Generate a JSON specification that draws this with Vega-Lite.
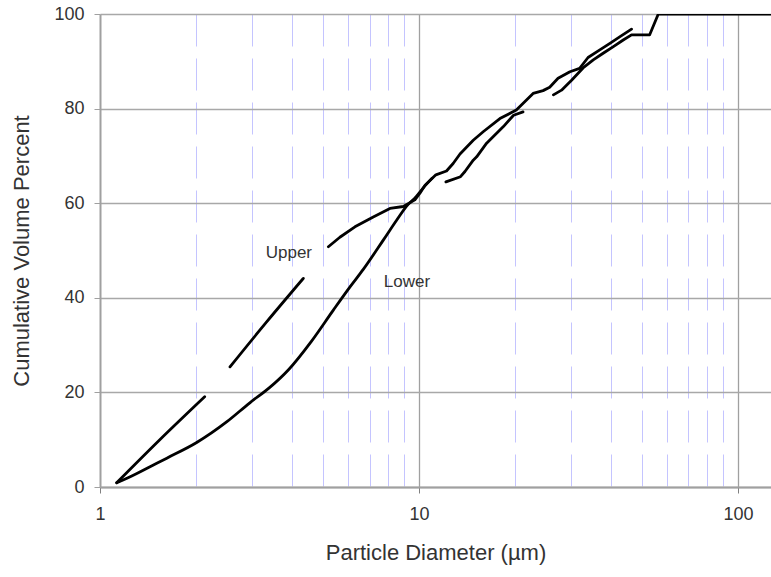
{
  "$schema": "https://vega.github.io/schema/vega-lite/v6.json",
  "autosize": "none",
  "width": 671,
  "height": 473,
  "padding": {"left": 100, "top": 14, "right": 0, "bottom": 90},
  "background": "white",
  "config": {
    "view": {"stroke": null},
    "font": "Liberation Sans",
    "axis": {"labelFont": "Liberation Sans", "titleFont": "Liberation Sans", "labelColor": "#333333", "titleColor": "#333333", "titleFontWeight": "normal", "labelFontSize": 18, "titleFontSize": 22}
  },
  "datasets": {
    "curves": [
      {"curve": "Upper", "seg": "U1", "d": 1.128, "v": 0.9},
      {"curve": "Upper", "seg": "U1", "d": 1.54, "v": 10.0},
      {"curve": "Upper", "seg": "U1", "d": 2.13, "v": 19.1},
      {"curve": "Upper", "seg": "U2", "d": 2.556, "v": 25.4},
      {"curve": "Upper", "seg": "U2", "d": 3.33, "v": 34.9},
      {"curve": "Upper", "seg": "U2", "d": 4.34, "v": 44.1},
      {"curve": "Upper", "seg": "U3", "d": 5.2, "v": 50.8},
      {"curve": "Upper", "seg": "U3", "d": 5.65, "v": 52.8},
      {"curve": "Upper", "seg": "U3", "d": 6.3, "v": 55.0},
      {"curve": "Upper", "seg": "U3", "d": 7.19, "v": 57.1},
      {"curve": "Upper", "seg": "U3", "d": 8.11, "v": 58.9},
      {"curve": "Upper", "seg": "U3", "d": 8.93, "v": 59.3},
      {"curve": "Upper", "seg": "U3", "d": 9.71, "v": 60.7},
      {"curve": "Upper", "seg": "U3", "d": 10.07, "v": 62.1},
      {"curve": "Upper", "seg": "U3", "d": 10.45, "v": 63.8},
      {"curve": "Upper", "seg": "U3", "d": 11.3, "v": 66.0},
      {"curve": "Upper", "seg": "U3", "d": 12.2, "v": 66.8},
      {"curve": "Upper", "seg": "U3", "d": 12.8, "v": 68.4},
      {"curve": "Upper", "seg": "U3", "d": 13.45, "v": 70.4},
      {"curve": "Upper", "seg": "U3", "d": 14.8, "v": 73.3},
      {"curve": "Upper", "seg": "U3", "d": 15.9, "v": 75.1},
      {"curve": "Upper", "seg": "U3", "d": 17.94, "v": 77.9},
      {"curve": "Upper", "seg": "U3", "d": 20.2, "v": 79.7},
      {"curve": "Upper", "seg": "U3", "d": 22.8, "v": 83.2},
      {"curve": "Upper", "seg": "U3", "d": 24.5, "v": 83.8},
      {"curve": "Upper", "seg": "U3", "d": 25.7, "v": 84.5},
      {"curve": "Upper", "seg": "U3", "d": 27.3, "v": 86.4},
      {"curve": "Upper", "seg": "U3", "d": 29.75, "v": 87.8},
      {"curve": "Upper", "seg": "U3", "d": 31.9, "v": 88.5},
      {"curve": "Upper", "seg": "U3", "d": 33.9, "v": 90.8},
      {"curve": "Upper", "seg": "U3", "d": 36.9, "v": 92.4},
      {"curve": "Upper", "seg": "U3", "d": 39.7, "v": 93.8},
      {"curve": "Upper", "seg": "U3", "d": 42.7, "v": 95.2},
      {"curve": "Upper", "seg": "U3", "d": 46.4, "v": 96.8},
      {"curve": "Lower", "seg": "L1", "d": 1.128, "v": 0.9},
      {"curve": "Lower", "seg": "L1", "d": 1.272, "v": 2.5},
      {"curve": "Lower", "seg": "L1", "d": 1.435, "v": 4.3},
      {"curve": "Lower", "seg": "L1", "d": 1.62, "v": 6.1},
      {"curve": "Lower", "seg": "L1", "d": 2.01, "v": 9.4},
      {"curve": "Lower", "seg": "L1", "d": 2.5, "v": 13.8},
      {"curve": "Lower", "seg": "L1", "d": 2.95, "v": 17.8},
      {"curve": "Lower", "seg": "L1", "d": 3.4, "v": 21.0},
      {"curve": "Lower", "seg": "L1", "d": 3.9, "v": 24.8},
      {"curve": "Lower", "seg": "L1", "d": 4.6, "v": 30.8},
      {"curve": "Lower", "seg": "L1", "d": 5.39, "v": 37.4},
      {"curve": "Lower", "seg": "L1", "d": 6.08, "v": 42.3},
      {"curve": "Lower", "seg": "L1", "d": 6.69, "v": 46.0},
      {"curve": "Lower", "seg": "L1", "d": 7.73, "v": 52.2},
      {"curve": "Lower", "seg": "L1", "d": 8.51, "v": 56.4},
      {"curve": "Lower", "seg": "L1", "d": 9.15, "v": 59.4},
      {"curve": "Lower", "seg": "L1", "d": 9.8, "v": 61.4},
      {"curve": "Lower", "seg": "L1", "d": 10.3, "v": 63.2},
      {"curve": "Lower", "seg": "L1", "d": 11.0, "v": 65.3},
      {"curve": "Lower", "seg": "L2", "d": 12.15, "v": 64.5},
      {"curve": "Lower", "seg": "L2", "d": 13.5, "v": 65.6},
      {"curve": "Lower", "seg": "L2", "d": 13.94, "v": 66.7},
      {"curve": "Lower", "seg": "L2", "d": 14.8, "v": 69.1},
      {"curve": "Lower", "seg": "L2", "d": 15.17, "v": 69.8},
      {"curve": "Lower", "seg": "L2", "d": 16.3, "v": 72.7},
      {"curve": "Lower", "seg": "L2", "d": 18.4, "v": 76.2},
      {"curve": "Lower", "seg": "L2", "d": 19.8, "v": 78.6},
      {"curve": "Lower", "seg": "L2", "d": 21.2, "v": 79.3},
      {"curve": "Lower", "seg": "L3", "d": 26.4, "v": 82.9},
      {"curve": "Lower", "seg": "L3", "d": 28.0, "v": 83.9},
      {"curve": "Lower", "seg": "L3", "d": 30.1, "v": 86.0},
      {"curve": "Lower", "seg": "L3", "d": 32.7, "v": 88.6},
      {"curve": "Lower", "seg": "L3", "d": 35.2, "v": 90.3},
      {"curve": "Lower", "seg": "L3", "d": 37.8, "v": 91.7},
      {"curve": "Lower", "seg": "L3", "d": 40.7, "v": 93.1},
      {"curve": "Lower", "seg": "L3", "d": 43.7, "v": 94.5},
      {"curve": "Lower", "seg": "L3", "d": 46.4, "v": 95.6},
      {"curve": "Lower", "seg": "L3", "d": 52.9, "v": 95.6},
      {"curve": "Lower", "seg": "L3", "d": 56.3, "v": 100},
      {"curve": "Lower", "seg": "L3", "d": 130, "v": 100}
    ],
    "labels": [
      {"label": "Upper", "d": 3.91, "v": 49.5},
      {"label": "Lower", "d": 9.17, "v": 43.3}
    ]
  },
  "layer": [
    {
      "data": {"name": "curves"},
      "transform": [{"filter": "datum.seg == 'U3' || datum.seg == 'L2' || datum.seg == 'L3'"}],
      "mark": {"type": "line", "color": "black", "strokeWidth": 2.8, "clip": true, "strokeCap": "round", "strokeJoin": "round"},
      "encoding": {
        "x": {
          "field": "d", "type": "quantitative",
          "scale": {"type": "log", "domain": [1, 127], "nice": false},
          "axis": {
            "title": "Particle Diameter (µm)",
            "titlePadding": 19,
            "values": [1, 2, 3, 4, 5, 6, 7, 8, 9, 10, 20, 30, 40, 50, 60, 70, 80, 90, 100],
            "labelExpr": "(datum.value == 1 || datum.value == 10 || datum.value == 100) ? datum.label : ''",
            "format": "d",
            "labelPadding": 12,
            "labelFlush": false,
            "labelOverlap": false,
            "domainColor": "#a0a0a0",
            "domainWidth": 2,
            "tickSize": 6,
            "tickColor": "#808080",
            "tickOpacity": {"condition": {"test": "datum.value == 1 || datum.value == 10 || datum.value == 100", "value": 1}, "value": 0},
            "grid": true,
            "gridColor": {"condition": {"test": "datum.value == 10 || datum.value == 100", "value": "#a0a0a0"}, "value": "#c4c4ff"},
            "gridDash": {"condition": {"test": "datum.value == 10 || datum.value == 100", "value": []}, "value": [32, 12]},
            "gridWidth": {"condition": {"test": "datum.value == 10 || datum.value == 100", "value": 1.3}, "value": 1},
            "gridOpacity": {"condition": {"test": "datum.value == 1", "value": 0}, "value": 1}
          }
        },
        "y": {
          "field": "v", "type": "quantitative",
          "scale": {"domain": [0, 100], "nice": false},
          "axis": {
            "title": "Cumulative Volume Percent",
            "titlePadding": 20,
            "values": [0, 20, 40, 60, 80, 100],
            "labelPadding": 10,
            "tickSize": 6,
            "tickColor": "#a0a0a0",
            "domainColor": "#a0a0a0",
            "domainWidth": 2,
            "grid": true,
            "gridColor": "#a8a8a8",
            "gridWidth": 1.6
          }
        },
        "detail": {"field": "seg"}
      }
    },
    {
      "data": {"name": "curves"},
      "transform": [{"filter": "datum.seg == 'U1' || datum.seg == 'U2' || datum.seg == 'L1'"}],
      "mark": {"type": "line", "color": "black", "strokeWidth": 2.8, "clip": true, "strokeCap": "round", "strokeJoin": "round", "interpolate": "monotone"},
      "encoding": {
        "x": {"field": "d", "type": "quantitative"},
        "y": {"field": "v", "type": "quantitative"},
        "detail": {"field": "seg"}
      }
    },
    {
      "data": {"name": "labels"},
      "mark": {"type": "text", "font": "Liberation Sans", "fontSize": 17, "color": "#333333", "align": "center", "baseline": "middle"},
      "encoding": {
        "x": {"field": "d", "type": "quantitative"},
        "y": {"field": "v", "type": "quantitative"},
        "text": {"field": "label"}
      }
    }
  ]
}
